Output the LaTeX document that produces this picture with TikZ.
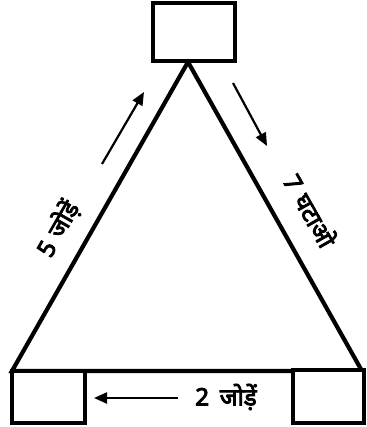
\documentclass[tikz,border=0pt]{standalone}
\usepackage{fontspec}
\newfontfamily\hindi[Script=Devanagari,FakeBold=4]{Noto Sans}
\usetikzlibrary{arrows.meta,positioning}
\tikzset{
  stand/.style={
    rectangle, draw=black, line width=4pt, fill=white,
    inner sep=0pt, outer sep=0pt
  },
  edge/.style={line width=4.2pt, line join=miter},
  movearrow/.style={
    -{Triangle[length=13pt,width=11pt]}, line width=2.2pt
  },
  steplabel/.style={
    font=\hindi\fontsize{24}{28}\selectfont, inner sep=1pt
  },
}

\begin{document}
\begin{tikzpicture}[x=1pt,y=-1pt]
  \useasboundingbox (0,0) rectangle (366,427);
  % Triangle corners
  \coordinate (apex) at (188,62);
  \coordinate (left) at (12,371);
  \coordinate (right) at (362,371);
  \draw[edge] (apex) -- (left) -- (right) -- cycle;

  % Boxes at the corners
  \node[stand, minimum width=82pt, minimum height=58pt] (topbox) at (194,32) {};
  \node[stand, minimum width=73pt, minimum height=52pt] (leftbox) at (48.5,397) {};
  \node[stand, minimum width=71pt, minimum height=53pt] (rightbox) at (328.5,396.5) {};

  % Arrows
  \coordinate (upA) at (102,164);
  \coordinate (upB) at (144,92);
  \draw[movearrow] (upA) -- (upB);
  \coordinate (downA) at (233,83);
  \coordinate (downB) at (267,146);
  \draw[movearrow] (downA) -- (downB);
  \coordinate (backA) at (178,398);
  \coordinate (backB) at (94,398);
  \draw[movearrow] (backA) -- (backB);

  % Labels
  \node[steplabel, rotate=60.3] (addfive) at (58,229) {5\hspace{0.35em}जोड़ें};
  \node[steplabel, rotate=-60.5] (subseven) at (311,210) {7\hspace{0.35em}घटाओ};
  \node[steplabel] (addtwo) at (226,397) {2\hspace{0.45em}जोड़ें};
\end{tikzpicture}
\end{document}
